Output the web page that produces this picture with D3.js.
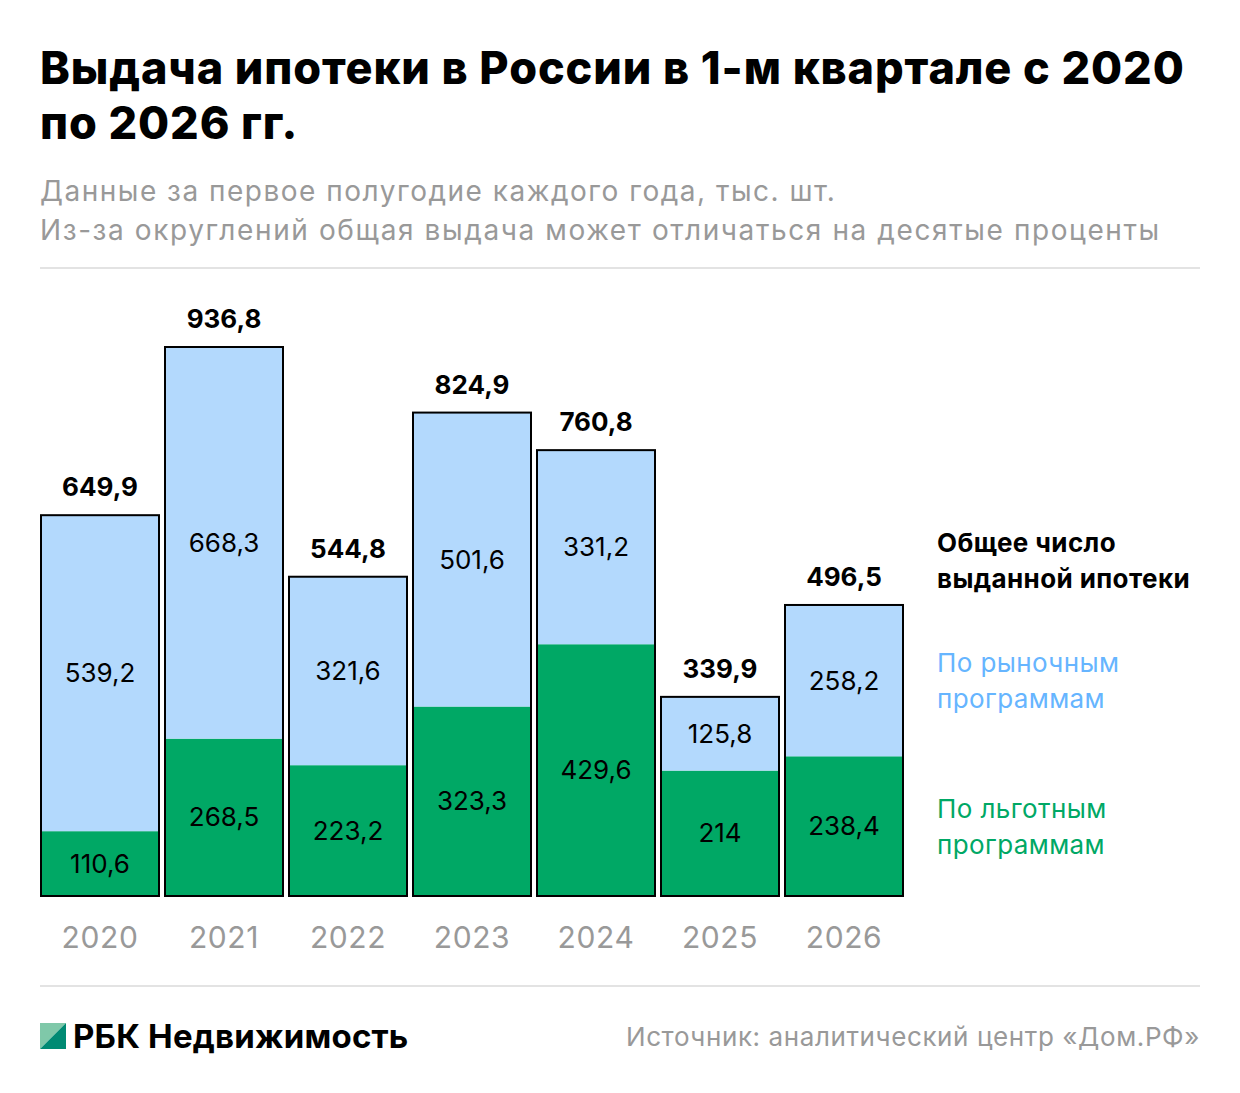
<!DOCTYPE html>
<html>
<head>
<meta charset="utf-8">
<script src="https://cdn.jsdelivr.net/npm/d3@7"></script>
<style>
  body { margin: 0; background: #fff; }
  svg { font-family: Inter, "Noto Sans", sans-serif; }
</style>
</head>
<body>
<svg id="chart"></svg>
<script>
// Data
const years = ["2020", "2021", "2022", "2023", "2024", "2025", "2026"];
const preferential = [110.6, 268.5, 223.2, 323.3, 429.6, 214, 238.4];
const market = [539.2, 668.3, 321.6, 501.6, 331.2, 125.8, 258.2];
const totals = [649.9, 936.8, 544.8, 824.9, 760.8, 339.9, 496.5];

const width = 1240, height = 1093;
const green = "#00a865", blue = "#b3d9fd";
const fmt = v => String(v).replace(".", ",");

const svg = d3.select("#chart").attr("width", width).attr("height", height);

// Title and subtitle
svg.append("text").attr("x", 40).attr("y", 84)
    .attr("font-size", 45).attr("font-weight", 800).attr("fill", "#000")
    .attr("letter-spacing", 0.9)
    .text("Выдача ипотеки в России в 1-м квартале с 2020");
svg.append("text").attr("x", 40).attr("y", 139)
    .attr("font-size", 45).attr("font-weight", 800).attr("fill", "#000")
    .attr("letter-spacing", 0.9)
    .text("по 2026 гг.");
svg.append("text").attr("x", 40).attr("y", 201)
    .attr("font-size", 28).attr("fill", "#999").attr("letter-spacing", 1.5)
    .text("Данные за первое полугодие каждого года, тыс. шт.");
svg.append("text").attr("x", 40).attr("y", 240)
    .attr("font-size", 28).attr("fill", "#999").attr("letter-spacing", 1.6)
    .text("Из-за округлений общая выдача может отличаться на десятые проценты");

svg.append("line").attr("x1", 40).attr("x2", 1200).attr("y1", 268).attr("y2", 268)
    .attr("stroke", "#e3e3e3").attr("stroke-width", 2);
svg.append("line").attr("x1", 40).attr("x2", 1200).attr("y1", 986).attr("y2", 986)
    .attr("stroke", "#e3e3e3").attr("stroke-width", 2);

// Scales
const x = d3.scaleBand().domain(years).range([38, 906])
    .paddingInner(6 / 124).paddingOuter(3 / 124);
const y = d3.scaleLinear().domain([0, 936.8]).range([896, 347]);

const rows = years.map((yr, i) => ({ year: yr, pref: preferential[i], market: market[i], total: totals[i] }));

const g = svg.append("g");

// Preferential (bottom)
g.selectAll("rect.pref").data(rows).join("rect")
    .attr("class", "pref")
    .attr("x", d => x(d.year)).attr("width", x.bandwidth())
    .attr("y", d => y(d.pref)).attr("height", d => y(0) - y(d.pref))
    .attr("fill", green);

// Market (top)
g.selectAll("rect.market").data(rows).join("rect")
    .attr("class", "market")
    .attr("x", d => x(d.year)).attr("width", x.bandwidth())
    .attr("y", d => y(d.pref + d.market)).attr("height", d => y(d.pref) - y(d.pref + d.market))
    .attr("fill", blue);

// Outline
g.selectAll("rect.outline").data(rows).join("rect")
    .attr("class", "outline")
    .attr("x", d => x(d.year)).attr("width", x.bandwidth())
    .attr("y", d => y(d.pref + d.market)).attr("height", d => y(0) - y(d.pref + d.market))
    .attr("fill", "none").attr("stroke", "#000").attr("stroke-width", 2);

// Segment labels
g.selectAll("text.pref").data(rows).join("text")
    .attr("x", d => x(d.year) + x.bandwidth() / 2)
    .attr("y", d => (y(0) + y(d.pref)) / 2)
    .attr("dy", "0.35em").attr("text-anchor", "middle")
    .attr("font-size", 26).attr("fill", "#000")
    .text(d => fmt(d.pref));

g.selectAll("text.market").data(rows).join("text")
    .attr("x", d => x(d.year) + x.bandwidth() / 2)
    .attr("y", d => (y(d.pref) + y(d.pref + d.market)) / 2)
    .attr("dy", "0.35em").attr("text-anchor", "middle")
    .attr("font-size", 26).attr("fill", "#000")
    .text(d => fmt(d.market));

// Totals
g.selectAll("text.total").data(rows).join("text")
    .attr("x", d => x(d.year) + x.bandwidth() / 2)
    .attr("y", d => y(d.pref + d.market) - 19)
    .attr("text-anchor", "middle")
    .attr("font-size", 26).attr("font-weight", 700).attr("fill", "#000")
    .text(d => fmt(d.total));

// Year axis
const axis = svg.append("g").attr("transform", "translate(0,896)")
    .call(d3.axisBottom(x).tickSize(0).tickPadding(0));
axis.select(".domain").remove();
axis.selectAll("text")
    .attr("y", 52).attr("dy", 0)
    .attr("font-size", 30).attr("font-family", "Inter, sans-serif").attr("fill", "#999")
    .attr("letter-spacing", 0.6);

// Legend
const legend = [
    { lines: ["Общее число", "выданной ипотеки"], color: "#000", weight: 700, y: 552 },
    { lines: ["По рыночным", "программам"], color: "#66b5ff", weight: 400, y: 672 },
    { lines: ["По льготным", "программам"], color: "#00a865", weight: 400, y: 818 }
];
legend.forEach(l => {
    l.lines.forEach((t, i) => {
        svg.append("text").attr("x", 937).attr("y", l.y + i * 36)
            .attr("font-size", 26).attr("font-weight", l.weight).attr("fill", l.color)
            .attr("letter-spacing", 0.4)
            .text(t);
    });
});

// Footer: logo
svg.append("path").attr("d", "M40,1023 L66,1023 L40,1049 Z").attr("fill", "#7fc8a9");
svg.append("path").attr("d", "M66,1023 L66,1049 L40,1049 Z").attr("fill", "#008a73");
svg.append("text").attr("x", 73).attr("y", 1048)
    .attr("font-size", 33).attr("font-weight", 700).attr("fill", "#000")
    .attr("letter-spacing", 0.2)
    .text("РБК Недвижимость");

svg.append("text").attr("x", 1200).attr("y", 1046)
    .attr("text-anchor", "end")
    .attr("font-size", 26).attr("fill", "#999").attr("letter-spacing", 0.6)
    .text("Источник: аналитический центр «Дом.РФ»");
</script>
</body>
</html>
